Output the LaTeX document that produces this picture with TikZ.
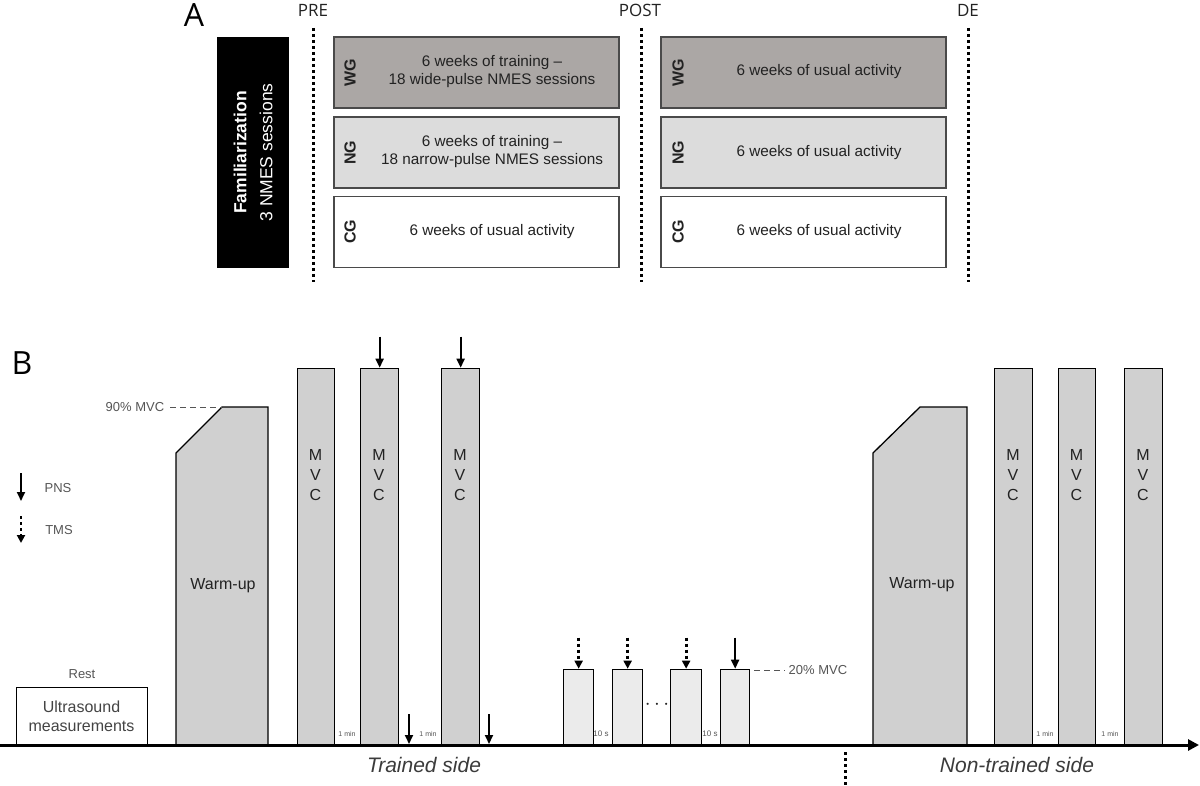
\documentclass[tikz,border=0pt]{standalone}
\usepackage{fontspec}
\setmainfont{Liberation Sans}
\newfontfamily\headfont{Open Sans}
\usetikzlibrary{arrows.meta}
\definecolor{wgfill}{HTML}{ABA7A5}
\definecolor{ngfill}{HTML}{DCDCDC}
\definecolor{boxline}{HTML}{4A4A4A}
\definecolor{barfill}{HTML}{D0D0D0}
\definecolor{lightbar}{HTML}{EBEBEB}
\definecolor{txtgray}{HTML}{555555}
\definecolor{txtdark}{HTML}{222222}
\newcommand{\fsz}[2]{\fontsize{#1}{#2}\selectfont}
\begin{document}
\begin{tikzpicture}[x=1pt,y=-1pt,
  groupbox/.style={draw=boxline, line width=1.6pt, minimum width=285pt, minimum height=71pt, inner sep=0pt},
  grouplabel/.style={rotate=90, font=\fsz{16}{18}\bfseries, text=txtdark},
  boxtext/.style={font=\fsz{15.3}{18}, text=txtdark, align=center},
  vline/.style={line width=3pt, dash pattern=on 3pt off 3pt},
  bar/.style={draw=black, line width=1.3pt, fill=barfill, inner sep=0pt, anchor=south west},
  sbar/.style={bar, fill=lightbar, minimum height=75pt},
  mvctext/.style={font=\fsz{16}{20}, text=txtdark, align=center},
  pns/.style={line width=2pt, -{Triangle[width=8pt,length=9pt]}},
  tms/.style={line width=2.8pt, dash pattern=on 2.8pt off 3.2pt, -{Triangle[width=8pt,length=8pt]}},
  tiny/.style={font=\fsz{7}{8}, text=txtgray},
  small/.style={font=\fsz{13}{15}, text=txtgray},
  sidelabel/.style={font=\fsz{21}{24}\itshape, text=txtgray!70!black}
]
\useasboundingbox (0,0) rectangle (1200,786);
% ================= Part A =================
\node[font=\headfont\fsz{32}{34}] (labA) at (194,15) {A};
\node[font=\headfont\fsz{17}{20}, text=txtdark] (pre) at (313,10) {PRE};
\node[font=\headfont\fsz{17}{20}, text=txtdark] (post) at (640,10) {POST};
\node[font=\headfont\fsz{17}{20}, text=txtdark] (de) at (968,10) {DE};
\coordinate (preA) at (313,28); \coordinate (preB) at (313,282);
\coordinate (postA) at (641,28); \coordinate (postB) at (641,282);
\coordinate (deA) at (968,28); \coordinate (deB) at (968,282);
\draw[vline] (preA) -- (preB);
\draw[vline] (postA) -- (postB);
\draw[vline] (deA) -- (deB);

\node[fill=black, minimum width=72pt, minimum height=231pt, inner sep=0pt] (fam) at (253,152.5) {};
\node[rotate=90, text=white, align=center, font=\fsz{17.5}{26}] (famtext) at (fam.center)
  {{\bfseries Familiarization}\\3 NMES sessions};

% column 1
\node[groupbox, fill=wgfill] (wg1) at (476.5,72.5) {};
\node[groupbox, fill=ngfill] (ng1) at (476.5,152.5) {};
\node[groupbox, fill=white] (cg1) at (476.5,232) {};
\node[grouplabel] (wg1l) at (350,73) {WG};
\node[grouplabel] (ng1l) at (350,153) {NG};
\node[grouplabel] (cg1l) at (350,232) {CG};
\node[boxtext] (wg1t) at (492,72) {6 weeks of training --\\18 wide-pulse NMES sessions};
\node[boxtext] (ng1t) at (492,152) {6 weeks of training --\\18 narrow-pulse NMES sessions};
\node[boxtext] (cg1t) at (492,232) {6 weeks of usual activity};
% column 2
\node[groupbox, fill=wgfill] (wg2) at (803.5,72.5) {};
\node[groupbox, fill=ngfill] (ng2) at (803.5,152.5) {};
\node[groupbox, fill=white] (cg2) at (803.5,232) {};
\node[grouplabel] (wg2l) at (678,73) {WG};
\node[grouplabel] (ng2l) at (678,153) {NG};
\node[grouplabel] (cg2l) at (678,232) {CG};
\node[boxtext] (wg2t) at (819,72) {6 weeks of usual activity};
\node[boxtext] (ng2t) at (819,153) {6 weeks of usual activity};
\node[boxtext] (cg2t) at (819,232) {6 weeks of usual activity};

% ================= Part B =================
\node[font=\headfont\fsz{32}{34}] (labB) at (22,363) {B};
% legend
\coordinate (lp1) at (21,473); \coordinate (lp2) at (21,501);
\draw[pns] (lp1) -- (lp2);
\node[small] (pnsl) at (58,488) {PNS};
\coordinate (lt1) at (21,516); \coordinate (lt2) at (21,543);
\draw[tms] (lt1) -- (lt2);
\node[small] (tmsl) at (59,530) {TMS};

% ultrasound
\node[draw=black, line width=1.3pt, fill=white, minimum width=131pt, minimum height=57pt, inner sep=0pt, anchor=south west] (us) at (16,745) {};
\node[font=\fsz{16}{19}, text=txtgray!80!black, align=center] (ust) at (81.5,716.5) {Ultrasound\\measurements};
\node[small] (rest) at (82,674) {Rest};

% warm-up 1
\draw[fill=barfill, line width=1.3pt] (176,745) -- (176,453) -- (222,407) -- (268,407) -- (268,745) -- cycle;
\node[font=\fsz{16}{19}, text=txtdark] (wu1) at (223,586) {Warm-up};
\node[small] (mvc90) at (135,407) {90\% MVC};
\coordinate (d90a) at (170,407); \coordinate (d90b) at (222,407);
\draw[dash pattern=on 6pt off 4pt, line width=1pt, txtgray] (d90a) -- (d90b);

% MVC bars trained side
\node[bar, minimum width=37pt, minimum height=376pt] (m1) at (297,745) {};
\node[bar, minimum width=38pt, minimum height=376pt] (m2) at (360,745) {};
\node[bar, minimum width=38pt, minimum height=376pt] (m3) at (441,745) {};
\node[mvctext] at (315.5,475) {M\\V\\C};
\node[mvctext] at (379,475) {M\\V\\C};
\node[mvctext] at (460,475) {M\\V\\C};
\draw[pns] ([yshift=31pt]m2.north) -- (m2.north);
\draw[pns] ([yshift=31pt]m3.north) -- (m3.north);
\coordinate (b1a) at (409,714); \coordinate (b1b) at (409,744);
\coordinate (b2a) at (489,714); \coordinate (b2b) at (489,744);
\draw[pns] (b1a) -- (b1b);
\draw[pns] (b2a) -- (b2b);
\node[tiny] at (347,734) {1 min};
\node[tiny] at (428,734) {1 min};

% submaximal bars
\node[sbar, minimum width=30pt] (s1) at (563,745) {};
\node[sbar, minimum width=30pt] (s2) at (612,745) {};
\node[sbar, minimum width=31pt] (s3) at (670,745) {};
\node[sbar, minimum width=29pt] (s4) at (720,745) {};
\draw[tms] ([yshift=31pt]s1.north) -- (s1.north);
\draw[tms] ([yshift=31pt]s2.north) -- (s2.north);
\draw[tms] ([yshift=31pt]s3.north) -- (s3.north);
\draw[pns] ([yshift=31pt]s4.north) -- (s4.north);
\node[font=\fsz{20}{22}, text=txtdark] (dots) at (657,705) {$\cdots$};
\node[tiny, font=\fsz{8}{9}] at (601,734) {10 s};
\node[tiny, font=\fsz{8}{9}] at (710,734) {10 s};
\coordinate (d20a) at (754,670); \coordinate (d20b) at (785,670);
\draw[dash pattern=on 6pt off 4pt, line width=1pt, txtgray] (d20a) -- (d20b);
\node[small] (mvc20) at (818,670) {20\% MVC};

% separator
\coordinate (sepA) at (845,752); \coordinate (sepB) at (845,786);
\draw[vline] (sepA) -- (sepB);

% warm-up 2
\draw[fill=barfill, line width=1.3pt] (873,745) -- (873,453) -- (920,407) -- (967,407) -- (967,745) -- cycle;
\node[font=\fsz{16}{19}, text=txtdark] (wu2) at (922,585) {Warm-up};

% MVC bars non-trained side
\node[bar, minimum width=38pt, minimum height=376pt] (n1) at (994,745) {};
\node[bar, minimum width=37pt, minimum height=376pt] (n2) at (1058,745) {};
\node[bar, minimum width=38pt, minimum height=376pt] (n3) at (1124,745) {};
\node[mvctext] at (1013,475) {M\\V\\C};
\node[mvctext] at (1076.5,475) {M\\V\\C};
\node[mvctext] at (1143,475) {M\\V\\C};
\node[tiny] at (1045,734) {1 min};
\node[tiny] at (1110,734) {1 min};

% axis
\coordinate (ax0) at (0,745); \coordinate (ax1) at (1199,745);
\draw[line width=3pt, -{Triangle[width=11pt,length=11pt]}] (ax0) -- (ax1);

\node[sidelabel] (trained) at (424,765) {Trained side};
\node[sidelabel] (nontrained) at (1017,765) {Non-trained side};
\end{tikzpicture}
\end{document}
